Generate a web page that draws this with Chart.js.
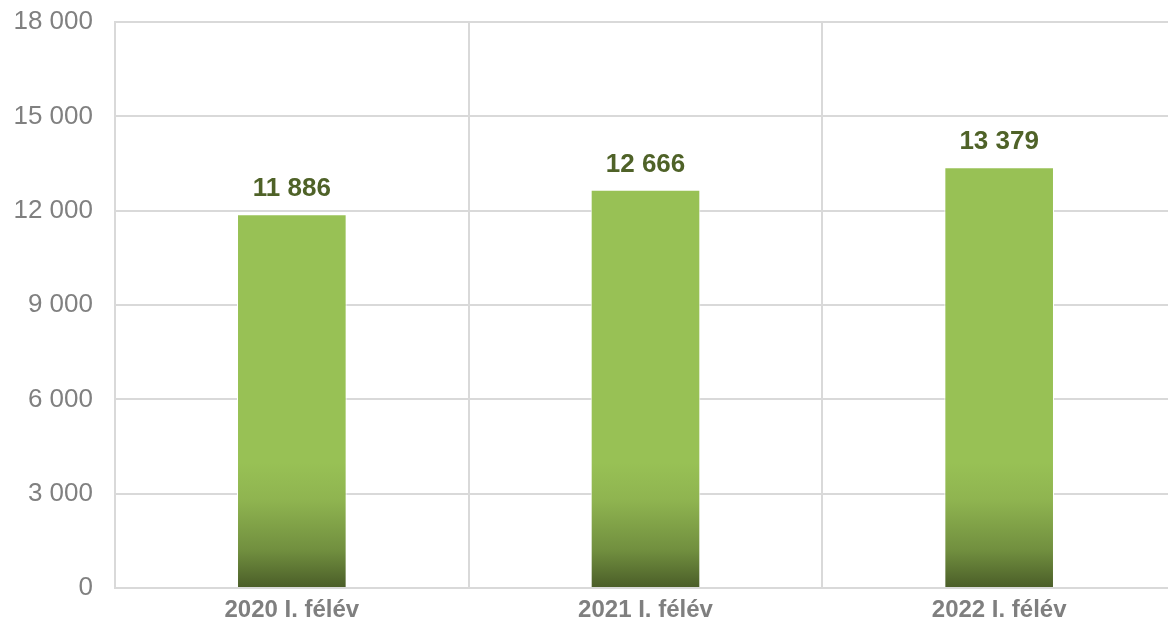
<!DOCTYPE html>
<html>
<head>
<meta charset="utf-8">
<script src="https://cdn.jsdelivr.net/npm/chart.js@4/dist/chart.umd.min.js"></script>
<style>
  html, body { margin: 0; padding: 0; background: #fff; overflow: hidden; }
  canvas { display: block; }
</style>
</head>
<body>
<!-- plot runs a few pixels past the right edge, as in the original -->
<canvas id="chart" width="1176" height="624"></canvas>
<script>
const categories = ['2020 I. félév', '2021 I. félév', '2022 I. félév'];
const values = [11886, 12666, 13379];
const yTicks = [0, 3000, 6000, 9000, 12000, 15000, 18000];

const fontFamily = '"Liberation Sans", Arial, sans-serif';

// space as thousands separator, like the original
const fmt = (v) => String(v).replace(/\B(?=(\d{3})+(?!\d))/g, ' ');

// vertical gradient fixed to the chart area: dark at the base, plain green higher up
function barFill(ctx) {
  const chart = ctx.chart;
  if (!chart.chartArea) return '#98c155';
  const y = chart.scales.y;
  const g = chart.ctx.createLinearGradient(0, y.getPixelForValue(0), 0, y.getPixelForValue(4000));
  g.addColorStop(0, '#4a5d28');
  g.addColorStop(0.3, '#718f3f');
  g.addColorStop(0.7, '#8fb450');
  g.addColorStop(1, '#98c155');
  return g;
}

const valueLabels = {
  id: 'valueLabels',
  afterDatasetsDraw(chart) {
    const c = chart.ctx;
    const meta = chart.getDatasetMeta(0);
    c.save();
    c.font = 'bold 26px ' + fontFamily;
    c.fillStyle = '#4f6228';
    c.textAlign = 'center';
    c.textBaseline = 'middle';
    meta.data.forEach((bar, i) => {
      c.fillText(fmt(values[i]), bar.x, bar.y - 25);
    });
    c.restore();
  }
};

new Chart(document.getElementById('chart'), {
  type: 'bar',
  data: {
    labels: categories,
    datasets: [{
      data: values,
      backgroundColor: barFill,
      borderColor: '#ffffff',
      borderWidth: 1,
      categoryPercentage: 1,
      barPercentage: 0.31
    }]
  },
  options: {
    responsive: false,
    animation: false,
    layout: { padding: { top: 22, right: 0, left: 0, bottom: 0 } },
    plugins: {
      legend: { display: false },
      tooltip: { enabled: false }
    },
    scales: {
      x: {
        grid: { color: '#d9d9d9', lineWidth: 2, drawTicks: false, offset: true },
        border: { color: '#d9d9d9', width: 2 },
        ticks: {
          color: '#7f7f7f',
          padding: 8,
          font: { family: fontFamily, size: 24, weight: 'bold' }
        },
        afterFit(scale) {
          scale.height = 36;
          scale.paddingLeft = 0;
          scale.paddingRight = 0;
        }
      },
      y: {
        min: 0,
        max: 18000,
        afterBuildTicks(scale) { scale.ticks = yTicks.map(v => ({ value: v })); },
        grid: { color: '#d9d9d9', lineWidth: 2, drawTicks: false },
        border: { color: '#d9d9d9', width: 2 },
        ticks: {
          color: '#808080',
          padding: 22,
          font: { family: fontFamily, size: 26 },
          callback: (v) => fmt(v)
        },
        afterFit(scale) {
          scale.width = 115;
          scale.paddingTop = 0;
          scale.paddingBottom = 0;
        }
      }
    }
  },
  plugins: [valueLabels]
});
</script>
</body>
</html>
